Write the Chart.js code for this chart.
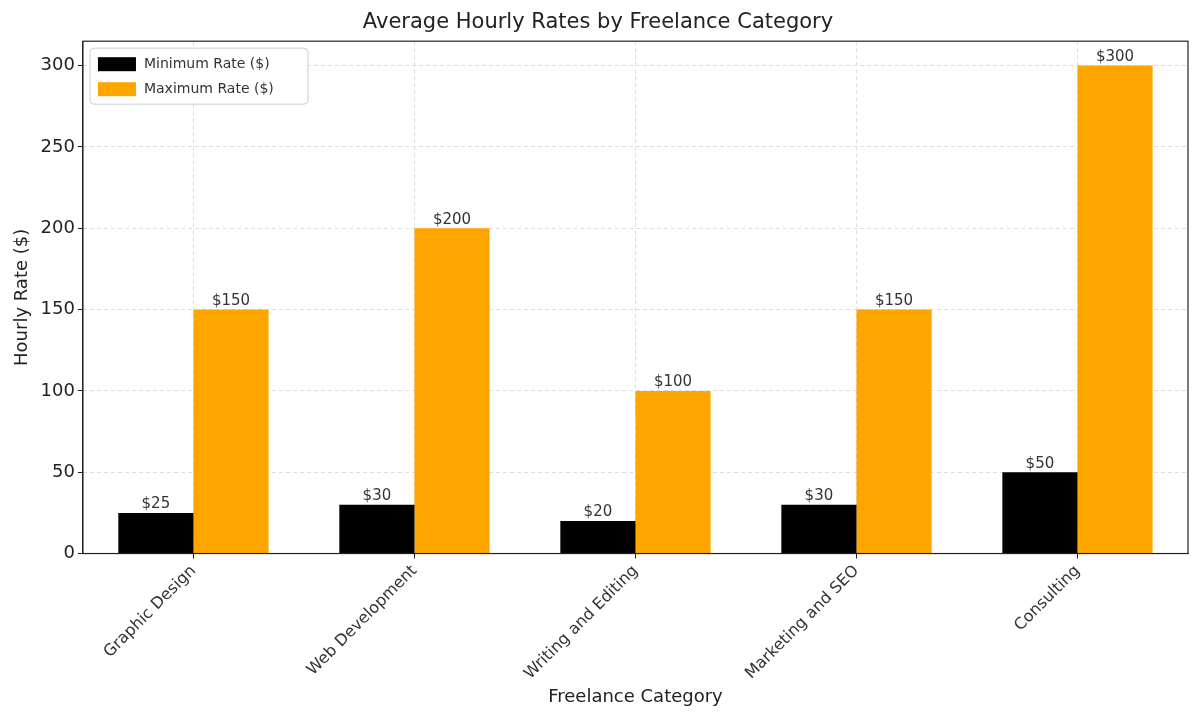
<!DOCTYPE html>
<html>
<head>
<meta charset="utf-8">
<script src="https://cdn.jsdelivr.net/npm/chart.js@4"></script>
<style>
  body { margin: 0; background: #fff; }
  .wrap { width: 1200px; height: 716px; }
</style>
</head>
<body>
<div class="wrap"><canvas id="chart"></canvas></div>
<script>
const categories = ['Graphic Design', 'Web Development', 'Writing and Editing', 'Marketing and SEO', 'Consulting'];
const minRates = [25, 30, 20, 30, 50];
const maxRates = [150, 200, 100, 150, 300];
const yTicks = [0, 50, 100, 150, 200, 250, 300];

const FONT = 'DejaVu Sans';

// value labels on top of each bar
const barLabels = {
  id: 'barLabels',
  afterDatasetsDraw(chart) {
    const ctx = chart.ctx;
    ctx.save();
    ctx.font = '15px ' + FONT;
    ctx.fillStyle = '#333';
    ctx.textAlign = 'center';
    ctx.textBaseline = 'bottom';
    chart.data.datasets.forEach((ds, i) => {
      chart.getDatasetMeta(i).data.forEach((bar, j) => {
        ctx.fillText('$' + ds.data[j], bar.x, bar.y - 1);
      });
    });
    ctx.restore();
  }
};

// frame + legend box inside the plot area
const frameLegend = {
  id: 'frameLegend',
  afterDraw(chart) {
    const ctx = chart.ctx;
    const a = chart.chartArea;
    ctx.save();
    ctx.strokeStyle = '#222';
    ctx.lineWidth = 1.2;
    ctx.strokeRect(a.left, a.top, a.right - a.left, a.bottom - a.top);

    const x = a.left + 7, y = a.top + 7;
    ctx.fillStyle = 'rgba(255,255,255,0.9)';
    ctx.strokeStyle = '#ccc';
    ctx.lineWidth = 1;
    ctx.beginPath();
    ctx.roundRect(x, y, 218, 56, 4);
    ctx.fill();
    ctx.stroke();
    ctx.font = '14px ' + FONT;
    ctx.textBaseline = 'middle';
    ctx.textAlign = 'left';
    chart.data.datasets.forEach((ds, i) => {
      const yy = y + 16 + i * 25;
      ctx.fillStyle = ds.backgroundColor;
      ctx.fillRect(x + 8, yy - 7, 38, 14);
      ctx.fillStyle = '#333';
      ctx.fillText(ds.label, x + 54, yy);
    });
    ctx.restore();
  }
};

new Chart(document.getElementById('chart'), {
  type: 'bar',
  data: {
    labels: categories,
    datasets: [
      { label: 'Minimum Rate ($)', data: minRates, backgroundColor: '#000000' },
      { label: 'Maximum Rate ($)', data: maxRates, backgroundColor: '#FFA500' },
    ],
  },
  options: {
    responsive: true,
    maintainAspectRatio: false,
    animation: false,
    categoryPercentage: 0.68,
    barPercentage: 1,
    layout: { padding: { left: 8, right: 12, top: 0, bottom: 4 } },
    scales: {
      x: {
        grid: { offset: false, color: '#ddd', borderDash: [4, 3], drawTicks: true, tickColor: '#222', tickLength: 5 },
        border: { color: '#222', dash: [4, 3] },
        ticks: { color: '#333', font: { family: FONT, size: 16 }, minRotation: 45, maxRotation: 45 },
        title: { display: true, text: 'Freelance Category', color: '#222', font: { family: FONT, size: 18 }, padding: { top: 0 } },
      },
      y: {
        min: 0,
        max: 315,
        afterBuildTicks(axis) { axis.ticks = yTicks.map(v => ({ value: v })); },
        grid: { color: '#ddd', tickColor: '#222', tickLength: 5 },
        border: { color: '#222', dash: [4, 3] },
        ticks: { color: '#222', font: { family: FONT, size: 18 } },
        title: { display: true, text: 'Hourly Rate ($)', color: '#222', font: { family: FONT, size: 18 } },
      },
    },
    plugins: {
      legend: { display: false },
      tooltip: { enabled: false },
      title: {
        display: true,
        text: 'Average Hourly Rates by Freelance Category',
        color: '#222',
        font: { family: FONT, size: 21, weight: 'normal' },
        padding: { top: 10, bottom: 6 },
      },
    },
  },
  plugins: [barLabels, frameLegend],
});
</script>
</body>
</html>
